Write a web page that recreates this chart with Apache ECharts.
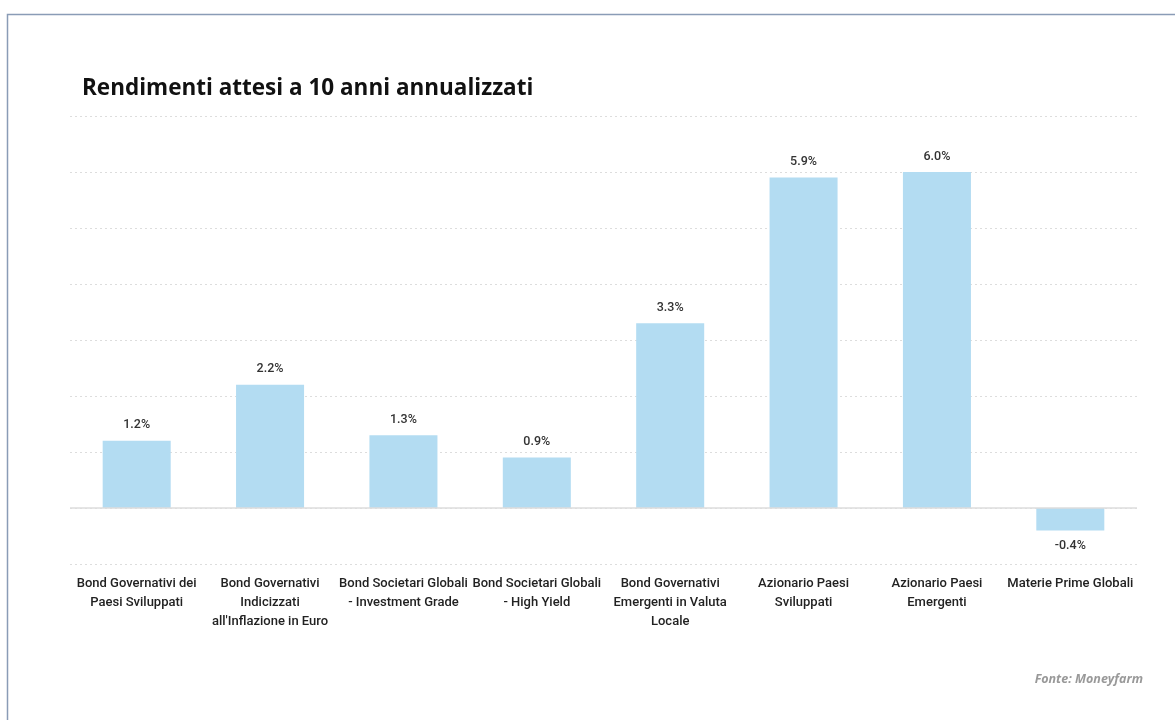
<!DOCTYPE html>
<html><head><meta charset="utf-8">
<script src="https://cdn.jsdelivr.net/npm/echarts@6/dist/echarts.min.js"></script>
<style>html,body{margin:0;padding:0;background:#fff}#c{width:1175px;height:720px}</style>
</head><body><div id="c"></div>
<script>
const categories = [
  "Bond Governativi dei\nPaesi Sviluppati",
  "Bond Governativi\nIndicizzati\nall'Inflazione in Euro",
  "Bond Societari Globali\n- Investment Grade",
  "Bond Societari Globali\n- High Yield",
  "Bond Governativi\nEmergenti in Valuta\nLocale",
  "Azionario Paesi\nSviluppati",
  "Azionario Paesi\nEmergenti",
  "Materie Prime Globali"
];
const values = [1.2, 2.2, 1.3, 0.9, 3.3, 5.9, 6.0, -0.4];
const titleText = "Rendimenti attesi a 10 anni annualizzati";
const sourceText = "Fonte: Moneyfarm";

const chart = echarts.init(document.getElementById('c'));
chart.setOption({
  animation: false,
  graphic: [
    { type: 'rect', shape: { x: 7.5, y: 14.5, width: 1200, height: 720 }, style: { fill: 'none', stroke: '#8a9cb6', lineWidth: 1.5 } }
  ],
  title: [
    { text: titleText, left: 77, top: 72, textStyle: { fontFamily: 'Open Sans', fontWeight: 'bold', fontSize: 22.5, color: '#111' } },
    { text: sourceText, right: 27, top: 668, textStyle: { fontFamily: 'Open Sans', fontStyle: 'italic', fontWeight: 'bold', fontSize: 12.5, color: '#999' } }
  ],
  grid: { left: 70, right: 38, top: 116, bottom: 156, containLabel: false },
  xAxis: {
    type: 'category', data: categories,
    axisLine: { show: false }, axisTick: { show: false },
    position: 'bottom',
    axisLabel: { interval: 0, margin: 10, lineHeight: 19, color: '#222', fontFamily: 'Roboto', fontWeight: 500, fontSize: 13 }
  },
  yAxis: {
    type: 'value', min: -1, max: 7, interval: 1,
    axisLabel: { show: false }, axisLine: { show: false }, axisTick: { show: false },
    splitLine: { lineStyle: { type: [2, 3], color: '#ddd', width: 1 } }
  },
  series: [{
    type: 'bar', data: values, barWidth: '51%',
    itemStyle: { color: '#b3dcf2' },
    label: { show: true, position: 'outside', formatter: p => p.value.toFixed(1) + '%', distance: 9, color: '#333', fontFamily: 'Roboto', fontWeight: 500, fontSize: 12.5 },
    markLine: { silent: true, symbol: 'none', label: { show: false }, lineStyle: { color: '#ddd', type: 'solid', width: 1.5 }, data: [{ yAxis: 0 }] }
  }]
});
</script></body></html>
